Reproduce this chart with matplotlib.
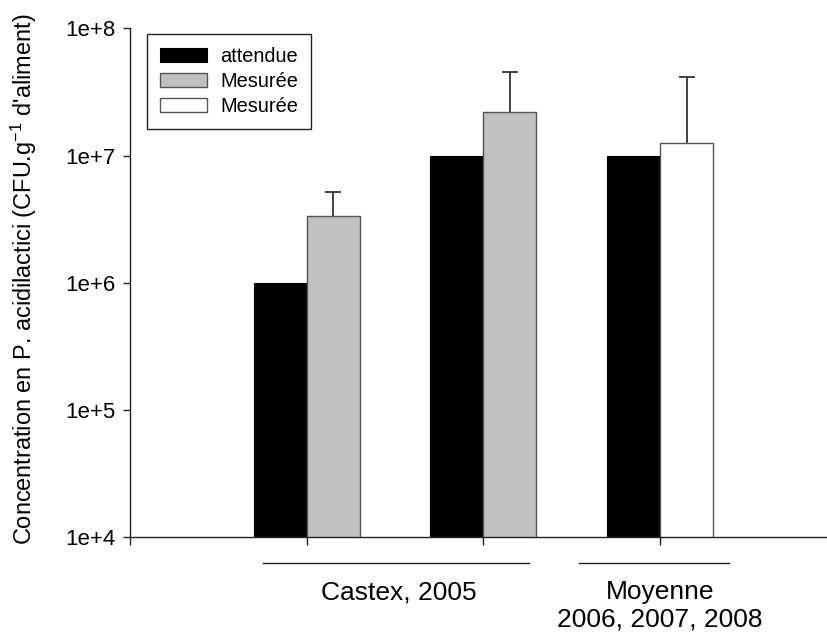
import matplotlib
matplotlib.use("Agg")
import matplotlib.pyplot as plt
import numpy as np
from matplotlib.ticker import FixedLocator, FuncFormatter, NullLocator

plt.rcParams['font.family'] = ['Liberation Sans', 'DejaVu Sans']
plt.rcParams['mathtext.default'] = 'regular'

# Data
group_pos = [1, 2, 3]
expected = [1e6, 1e7, 1e7]
measured = [3.37e6, 2.2e7, 1.26e7]
measured_err_top = [5.19e6, 4.56e7, 4.17e7]
measured_colors = ['#c0c0c0', '#c0c0c0', '#ffffff']
legend_labels = ['attendue', 'Mesurée', 'Mesurée']
yticks = [1e4, 1e5, 1e6, 1e7, 1e8]
group_labels = ['Castex, 2005', 'Moyenne', '2006, 2007, 2008']
ylabel = r"Concentration en P. acidilactici (CFU.g$^{-1}$ d'aliment)"

W, H = 828, 633
fig = plt.figure(figsize=(W/100, H/100), dpi=100)
ax = fig.add_axes([130/W, 1-537.3/H, 1-130/W, (537.3-28.3)/H])

bw = 0.3
x = np.array(group_pos, dtype=float)
b1 = ax.bar(x - bw/2, expected, width=bw, color='black', edgecolor='black', linewidth=0.8)
b2 = ax.bar(x + bw/2, measured, width=bw, color=measured_colors, edgecolor='#555555', linewidth=1.0)
err = np.array(measured_err_top) - np.array(measured)
eb = ax.errorbar(x + bw/2, measured, yerr=[np.zeros(3), err], fmt='none', ecolor='#333333',
                 elinewidth=1.3, capsize=5.8, capthick=1.3)
# hide the lower caps (one-sided error bars)
eb[1][0].set_visible(False)

ax.set_yscale('log')
ax.set_ylim(1e4, 1e8)
ax.set_xlim(0, 3.95)
ax.yaxis.set_major_locator(FixedLocator(yticks))
ax.yaxis.set_minor_locator(NullLocator())
ax.yaxis.set_major_formatter(FuncFormatter(lambda v, p: "1e+%d" % round(np.log10(v))))
ax.set_xticks([0] + group_pos)
ax.set_xticklabels([])
ax.spines['top'].set_visible(False)
ax.spines['right'].set_visible(False)
for s in ['left', 'bottom']:
    ax.spines[s].set_linewidth(1.0)
    ax.spines[s].set_color('#222222')
ax.tick_params(axis='y', length=5, width=1.0, pad=5.5, labelsize=16, color='#222222')
ax.tick_params(axis='x', length=5.5, width=1.0, color='#222222')

ax.set_ylabel(ylabel, fontsize=16.9)
ax.yaxis.set_label_coords(-0.131, 0.507)

trans = ax.get_xaxis_transform()
ax.plot([0.75, 2.26], [-0.0505, -0.0505], transform=trans, color='#222222', lw=1.0, clip_on=False)
ax.plot([2.54, 3.39], [-0.0505, -0.0505], transform=trans, color='#222222', lw=1.0, clip_on=False)
ax.text(1.52, -0.109, group_labels[0], transform=trans, ha='center', va='center', fontsize=19)
ax.text(3.0, -0.107, group_labels[1], transform=trans, ha='center', va='center', fontsize=19)
ax.text(3.0, -0.162, group_labels[2], transform=trans, ha='center', va='center', fontsize=19)

leg = ax.legend([b1[0], b2[0], b2[2]], legend_labels, loc='upper left',
                bbox_to_anchor=((147-130)/(W-130), (537.3-34)/509), fontsize=14.4,
                frameon=True, fancybox=False, edgecolor='#222222', framealpha=1,
                handlelength=2.35, handleheight=0.7, handletextpad=0.65, labelspacing=0.3,
                borderpad=0.65, borderaxespad=0)
leg.get_frame().set_linewidth(1.0)

fig.savefig('out.png', dpi=100)
